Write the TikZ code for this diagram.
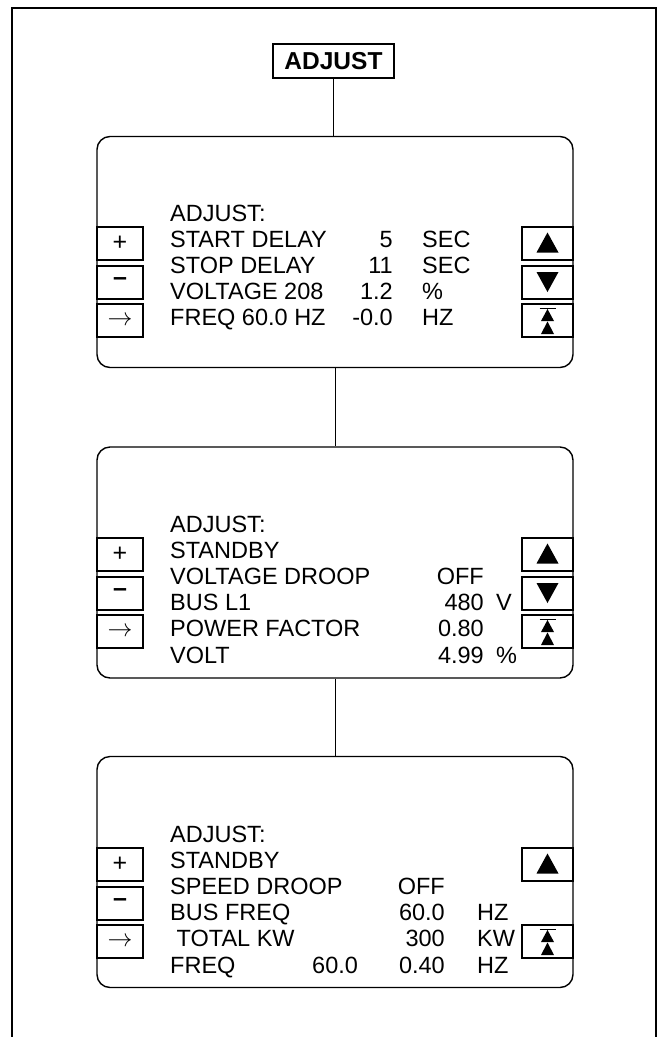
\documentclass[tikz,border=0pt]{standalone}
\usepackage{fontspec}
\setmainfont{Liberation Sans}
\usetikzlibrary{positioning}

\tikzset{
  frame/.style={line width=2pt},
  link/.style={line width=1pt},
  titlebox/.style={draw,line width=2.5pt,minimum width=121pt,minimum height=34pt,
    inner sep=0pt,font=\fontsize{24.5pt}{24pt}\selectfont\bfseries},
  panel/.style={draw,line width=1.4pt,rounded corners=13pt,
    minimum width=476pt,minimum height=231pt,inner sep=0pt},
  lkey/.style={draw,line width=2pt,minimum width=46pt,minimum height=33pt,
    inner sep=0pt,font=\fontsize{25pt}{25pt}\selectfont},
  rkey/.style={lkey,minimum width=51pt},
  upkey/.style={rkey,path picture={
    \fill ([shift={(-11pt,-9pt)}]path picture bounding box.center)
      -- ++(22pt,0pt) -- ++(-11pt,20pt) -- cycle;}},
  downkey/.style={rkey,path picture={
    \fill ([shift={(-11pt,10pt)}]path picture bounding box.center)
      -- ++(22pt,0pt) -- ++(-11pt,-20pt) -- cycle;}},
  topkey/.style={rkey,path picture={
    \draw[line width=1.5pt] ([shift={(-8pt,12pt)}]path picture bounding box.center)
      -- ++(16pt,0pt);
    \fill ([shift={(-6.5pt,-0.5pt)}]path picture bounding box.center)
      -- ++(13pt,0pt) -- ++(-6.5pt,12pt) -- cycle;
    \fill ([shift={(-6.5pt,-13.5pt)}]path picture bounding box.center)
      -- ++(13pt,0pt) -- ++(-6.5pt,12.5pt) -- cycle;}},
  row/.style={anchor=base west,inner sep=0pt,font=\fontsize{23.5pt}{26pt}\selectfont},
  val/.style={row,anchor=base east}
}

\begin{document}
\begin{tikzpicture}[x=1pt,y=-1pt]
\useasboundingbox (0,0) rectangle (661,1037);

% Outer frame, open at the bottom.
\draw[frame] (12,1037) -- (12,8) -- (656,8) -- (656,1037);

% Title and the three screens.
\node[titlebox] (title) at (333.5,61) {ADJUST};
\node[panel] (scrA) at (335,252) {};
\node[panel] (scrB) at (335,562.5) {};
\node[panel] (scrC) at (335,872) {};

% Connectors.
\draw[link] (title.south) -- (title.south |- scrA.north);
\draw[link] (scrA.south) -- (scrB.north);
\draw[link] (scrB.south) -- (scrC.north);

% Keys on both sides of each screen.
\foreach \s/\top in {A/136,B/447,C/757} {
  \node[lkey] (plus\s) at (120,\top+107.5) {+};
  \node[lkey] (minus\s) at (120,\top+146) {\bfseries –};
  \node[lkey] (next\s) at (120,\top+184.5) {$\rightarrow$};
  \node[upkey] (up\s) at (547.5,\top+107.5) {};
  \node[topkey] (first\s) at (547.5,\top+184.5) {};
}
\foreach \s/\top in {A/136,B/447}
  \node[downkey] (down\s) at (547.5,\top+146) {};

% Screen A.
\foreach \k/\txt in {0/ADJUST:,1/START DELAY,2/STOP DELAY,3/VOLTAGE 208,4/FREQ 60.0 HZ}
  \node[row] (lineA\k) at (170,221+26.2*\k) {\txt};
\foreach \k/\v/\u in {1/5/SEC,2/11/SEC,3/1.2/\%,4/-0.0/HZ} {
  \node[val] (valA\k) at (393,221+26.2*\k) {\v};
  \node[row] (unitA\k) at (422,221+26.2*\k) {\u};
}

% Screen B.
\foreach \k/\txt in {0/ADJUST:,1/STANDBY,2/VOLTAGE DROOP,3/BUS L1,4/POWER FACTOR,5/VOLT}
  \node[row] (lineB\k) at (170,532+26.2*\k) {\txt};
\foreach \k/\v in {2/OFF,3/480,4/0.80,5/4.99}
  \node[val] (valB\k) at (484,532+26.2*\k) {\v};
\node[row] (unitB3) at (496,532+26.2*3) {V};
\node[row] (unitB5) at (496,532+26.2*5) {\%};

% Screen C.
\foreach \k/\txt in {0/ADJUST:,1/STANDBY,2/SPEED DROOP,3/BUS FREQ,4/\ TOTAL KW,5/FREQ}
  \node[row] (lineC\k) at (170,842+26.2*\k) {\txt};
\node[row] (setC5) at (312,842+26.2*5) {60.0};
\foreach \k/\v in {2/OFF,3/60.0,4/300,5/0.40}
  \node[val] (valC\k) at (445,842+26.2*\k) {\v};
\foreach \k/\u in {3/HZ,4/KW,5/HZ}
  \node[row] (unitC\k) at (477,842+26.2*\k) {\u};

\end{tikzpicture}
\end{document}
